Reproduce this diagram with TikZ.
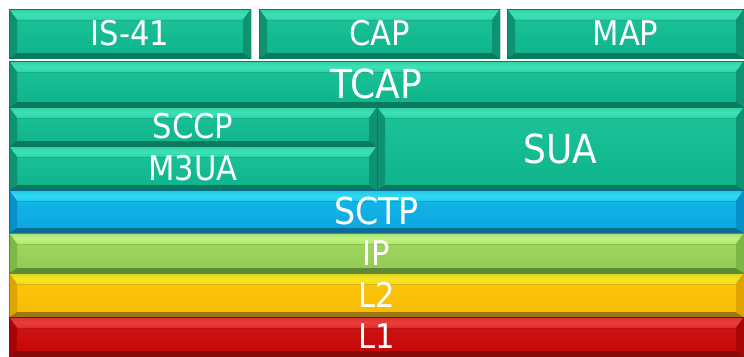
\documentclass[tikz,border=0pt]{standalone}
\usepackage{fontspec}
\setmainfont{DejaVu Sans Condensed}
\usetikzlibrary{calc}

% layer palettes: light (top bevel), base (face), dark (bottom bevel), side (left/right bevel)
\definecolor{gLight}{HTML}{3CE2B6}
\definecolor{gBase}{HTML}{0DB38A}
\definecolor{gDark}{HTML}{0A7A5D}
\definecolor{gSide}{HTML}{0E9272}
\definecolor{bLight}{HTML}{2CDAF4}
\definecolor{bBase}{HTML}{0AA6E0}
\definecolor{bDark}{HTML}{0A6C92}
\definecolor{bSide}{HTML}{0890C8}
\definecolor{lLight}{HTML}{BEF47E}
\definecolor{lBase}{HTML}{92CA54}
\definecolor{lDark}{HTML}{5E8A38}
\definecolor{lSide}{HTML}{7DB847}
\definecolor{yLight}{HTML}{F4E622}
\definecolor{yBase}{HTML}{FBBA04}
\definecolor{yDark}{HTML}{9A7812}
\definecolor{ySide}{HTML}{E0A400}
\definecolor{rLight}{HTML}{EC3C3C}
\definecolor{rBase}{HTML}{C40404}
\definecolor{rDark}{HTML}{860A0A}
\definecolor{rSide}{HTML}{A80606}

\tikzset{
  x=1pt, y=-1pt,
  bevel/.style n args={4}{
    rectangle, inner sep=0pt, outer sep=0pt, anchor=north west,
    text=white, font=\fontsize{34}{34}\selectfont,
    path picture={
      \coordinate (bsw) at (path picture bounding box.south west);
      \coordinate (bne) at (path picture bounding box.north east);
      % face
      \fill[top color=#1!35!#2, bottom color=#2] (bsw) rectangle (bne);
      % top bevel
      \fill[top color=#1!80!#3, bottom color=#1!70!#2, middle color=#1] let \p1=(bsw), \p2=(bne) in
        (\x1,\y2) -- (\x2,\y2) -- (\x2-8pt,\y2-11pt) -- (\x1+8pt,\y2-11pt) -- cycle;
      % bottom bevel
      \fill[#3] let \p1=(bsw), \p2=(bne) in
        (\x1,\y1) -- (\x2,\y1) -- (\x2-8pt,\y1+5pt) -- (\x1+8pt,\y1+5pt) -- cycle;
      % side bevels
      \fill[#4] let \p1=(bsw), \p2=(bne) in
        (\x1,\y1) -- (\x1,\y2) -- (\x1+8pt,\y2-11pt) -- (\x1+8pt,\y1+5pt) -- cycle;
      \fill[#4] let \p1=(bsw), \p2=(bne) in
        (\x2,\y1) -- (\x2,\y2) -- (\x2-8pt,\y2-11pt) -- (\x2-8pt,\y1+5pt) -- cycle;
      % thin rim
      \draw[#3, line width=1pt] (bsw) rectangle (bne);
    }},
  tealbox/.style={bevel={gLight}{gBase}{gDark}{gSide}},
  bluebox/.style={bevel={bLight}{bBase}{bDark}{bSide}},
  limebox/.style={bevel={lLight}{lBase}{lDark}{lSide}},
  yellowbox/.style={bevel={yLight}{yBase}{yDark}{ySide}},
  redbox/.style={bevel={rLight}{rBase}{rDark}{rSide}},
  big/.style={font=\fontsize{40}{40}\selectfont},
}

\begin{document}
\begin{tikzpicture}
  \fill[white] (0,0) rectangle (744,356);
  \useasboundingbox (0,0) rectangle (744,356);

  % application parts
  \node[tealbox, minimum width=242pt, minimum height=49pt] (is41) at (9,9) {IS-41};
  \node[tealbox, minimum width=241pt, minimum height=49pt] (cap) at (259,9) {CAP};
  \node[tealbox, minimum width=237pt, minimum height=49pt] (map) at (507,9) {MAP};

  % transaction and adaptation layers
  \node[tealbox, big, minimum width=735pt, minimum height=46pt] (tcap) at (9,61) {TCAP};
  \node[tealbox, minimum width=368pt, minimum height=39pt] (sccp) at (9,107) {SCCP};
  \node[tealbox, minimum width=368pt, minimum height=44pt] (m3ua) at (9,146) {M3UA};
  \node[tealbox, big, minimum width=367pt, minimum height=83pt] (sua) at (377,107) {SUA};

  % transport and lower layers
  \node[bluebox, font=\fontsize{37}{37}\selectfont, minimum width=735pt, minimum height=43pt] (sctp) at (9,190) {SCTP};
  \node[limebox, minimum width=735pt, minimum height=40pt] (ip) at (9,233) {IP};
  \node[yellowbox, minimum width=735pt, minimum height=44pt] (l2) at (9,273) {L2};
  \node[redbox, minimum width=735pt, minimum height=39pt] (l1) at (9,317) {L1};
\end{tikzpicture}
\end{document}
